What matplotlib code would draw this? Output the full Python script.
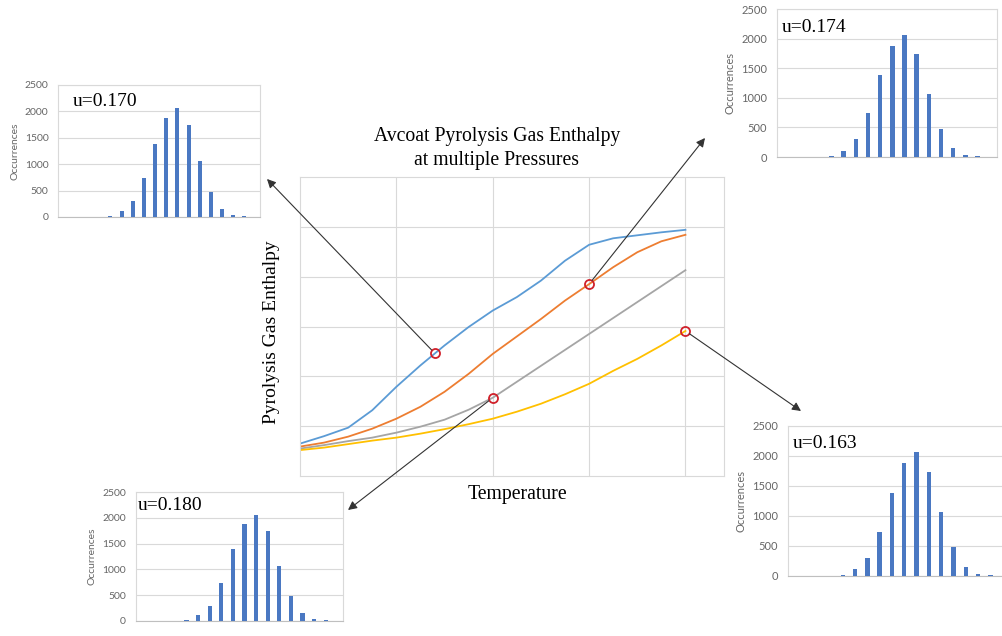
import numpy as np
import matplotlib.pyplot as plt
from matplotlib.patches import Rectangle, ConnectionPatch

W, H = 1003, 636

# main chart: enthalpy vs temperature (arbitrary units, no tick labels)
temp = [0, 0.25, 0.5, 0.75, 1.0, 1.25, 1.5, 1.75, 2.0, 2.25, 2.5, 2.75, 3.0, 3.25, 3.5, 3.75, 4.0]
p_blue = [0.65, 0.80, 0.97, 1.32, 1.79, 2.22, 2.62, 2.99, 3.32, 3.59, 3.92, 4.32, 4.64, 4.77, 4.83, 4.89, 4.94]
p_orange = [0.59, 0.67, 0.79, 0.95, 1.15, 1.39, 1.69, 2.05, 2.45, 2.80, 3.15, 3.52, 3.85, 4.19, 4.49, 4.71, 4.84]
p_gray = [0.55, 0.62, 0.70, 0.77, 0.87, 0.99, 1.13, 1.33, 1.57, 1.89, 2.21, 2.53, 2.85, 3.17, 3.49, 3.81, 4.13]
p_yellow = [0.52, 0.57, 0.64, 0.71, 0.77, 0.85, 0.94, 1.04, 1.15, 1.29, 1.45, 1.64, 1.85, 2.11, 2.35, 2.62, 2.91]

# sampled points (blue, orange, yellow, gray)
circle_x = [1.4, 3.0, 4.0, 2.0]
circle_y = [2.46, 3.85, 2.91, 1.57]

# histogram of occurrences (same shape in each inset)
bins = list(range(17))
counts = [5, 0, 8, 20, 110, 300, 740, 1390, 1880, 2060, 1740, 1060, 480, 150, 40, 10, 8]
u_labels = ['u=0.170', 'u=0.174', 'u=0.163', 'u=0.180']


def px_rect(l, t, r, b):
    return [l / W, 1 - b / H, (r - l) / W, (b - t) / H]


def fig_xy(x, y):
    return (x / W, 1 - y / H)


fig = plt.figure(figsize=(W / 100, H / 100), dpi=100)

serif = 'Liberation Serif'
grid_c = '#d9d9d9'

ax = fig.add_axes(px_rect(300, 177, 724, 476))
ax.set_zorder(0)
ax.plot(temp, p_blue, color='#5b9bd5', lw=1.3)
ax.plot(temp, p_orange, color='#ed7d31', lw=1.3)
ax.plot(temp, p_gray, color='#a5a5a5', lw=1.3)
ax.plot(temp, p_yellow, color='#ffc000', lw=1.3)
ax.plot(circle_x, circle_y, 'o', mfc='none', mec='#d0202a', mew=1.3, ms=6.5, zorder=5)
ax.set_xlim(0, 4.4)
ax.set_ylim(0, 6)
ax.set_xticks([1, 2, 3, 4])
ax.set_yticks([1, 2, 3, 4, 5])
ax.grid(True, color=grid_c, lw=0.8)
ax.tick_params(length=0, labelleft=False, labelbottom=False)
for s in ax.spines.values():
    s.set_color(grid_c)

fig.text(497 / W, 1 - 137 / H, 'Avcoat Pyrolysis Gas Enthalpy',
         family=serif, fontsize=14.2, ha='center', va='center')
fig.text(497 / W, 1 - 161 / H, 'at multiple Pressures',
         family=serif, fontsize=14.2, ha='center', va='center')
fig.text(272 / W, 1 - 332 / H, 'Pyrolysis Gas Enthalpy', family=serif, fontsize=14,
         rotation=90, ha='center', va='center')
fig.text(517 / W, 1 - 494 / H, 'Temperature', family=serif, fontsize=14.2,
         ha='center', va='center')

# white chart area of the bottom-right inset covers the main chart corner
fig.add_artist(Rectangle(fig_xy(726, 636), 1 - 726 / W, 1 - 413 / H,
                         transform=fig.transFigure, facecolor='white', edgecolor='none', zorder=1))

insets = [
    dict(box=(58.3, 85, 260, 217), xlim=(-1.67, 16.4), fs=7.5, text=(73, 102)),
    dict(box=(776.7, 9.3, 997, 157), xlim=(-1.5, 16.6), fs=8, text=(782, 27)),
    dict(box=(788, 426, 1010, 576), xlim=(-1.46, 16.6), fs=8, text=(793, 443)),
    dict(box=(135.7, 492, 343, 621), xlim=(-1.38, 16.5), fs=7.5, text=(138, 506)),
]
arrow_ends = [(267, 179), (705, 138), (801, 411), (348, 510)]

for spec, lab in zip(insets, u_labels):
    a = fig.add_axes(px_rect(*spec['box']))
    a.set_zorder(2)
    a.bar(bins, counts, width=0.36, color='#4a78c2', zorder=3)
    a.set_xlim(*spec['xlim'])
    a.set_ylim(0, 2500)
    a.set_yticks([0, 500, 1000, 1500, 2000, 2500])
    a.set_xticks([])
    a.grid(True, axis='y', color=grid_c, lw=0.8, zorder=0)
    a.tick_params(length=0, pad=7, labelsize=spec['fs'], labelcolor='#666666')
    for t in a.get_yticklabels():
        t.set_family('Lato')
    a.set_ylabel('Occurrences', family='Lato', fontsize=spec['fs'], color='#666666', labelpad=4)
    for s in a.spines.values():
        s.set_color(grid_c)
    a.spines['bottom'].set_color('#bfbfbf')
    tx, ty = spec['text']
    fig.text(tx / W, 1 - ty / H, lab, family=serif, fontsize=14, ha='left', va='center', zorder=4)

for cx, cy, (ex, ey) in zip(circle_x, circle_y, arrow_ends):
    con = ConnectionPatch(xyA=(cx, cy), coordsA=ax.transData,
                          xyB=fig_xy(ex, ey), coordsB=fig.transFigure,
                          arrowstyle='-|>', mutation_scale=13, shrinkA=3.5, shrinkB=0,
                          color='#333333', lw=0.8, zorder=6)
    fig.add_artist(con)

fig.savefig('out.png', dpi=100)
